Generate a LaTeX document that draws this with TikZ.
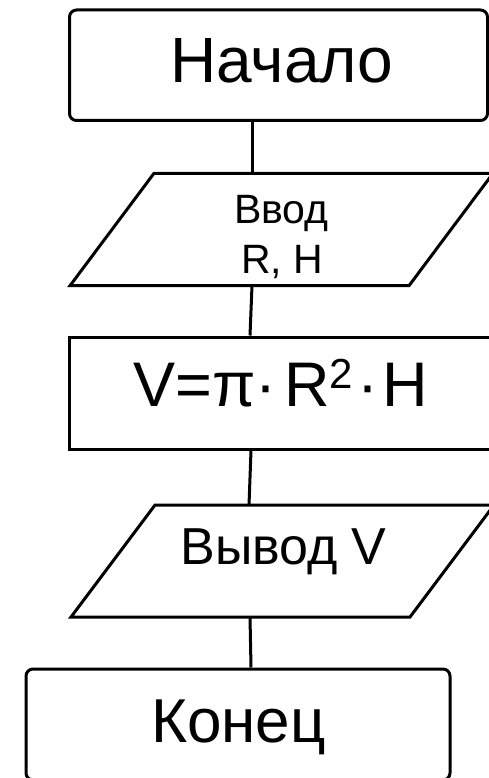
\documentclass[tikz,border=0pt]{standalone}
\usepackage{fontspec}
\setmainfont{Liberation Sans}
\begin{document}
\begin{tikzpicture}[x=1pt,y=-1pt,
  flow/.style={draw=black, line width=3pt},
  termbox/.style={flow, rounded corners=7pt, inner sep=0pt},
  procbox/.style={flow, inner sep=0pt},
  lbl/.style={inner sep=0pt, anchor=base, align=center}
]
\useasboundingbox (0,0) rectangle (489,778);
\clip (0,0) rectangle (489,778);

% terminal and process boxes
\node[termbox, minimum width=418pt, minimum height=110.5pt] (start) at (278.5,65.25) {};
\node[procbox, minimum width=422.5pt, minimum height=112pt] (proc) at (280.75,393) {};
\node[termbox, minimum width=424pt, minimum height=111pt] (stop) at (238,724.5) {};

% input parallelogram
\coordinate (in-tl) at (154,173.3);
\coordinate (in-tr) at (493,173.3);
\coordinate (in-br) at (409,285.7);
\coordinate (in-bl) at (70,285.7);
\draw[flow] (in-tl) -- (in-tr) -- (in-br) -- (in-bl) -- cycle;
\coordinate (in-top) at (252,173.3);
\coordinate (in-bot) at (252,285.7);

% output parallelogram
\coordinate (out-tl) at (155,505);
\coordinate (out-tr) at (494,505);
\coordinate (out-br) at (410,617);
\coordinate (out-bl) at (71,617);
\draw[flow] (out-tl) -- (out-tr) -- (out-br) -- (out-bl) -- cycle;
\coordinate (out-top) at (249,505);
\coordinate (out-bot) at (250,617);

% attachment columns on the boxes
\coordinate (x250) at (250,0);
\coordinate (x251) at (251,0);

% connectors
\draw[flow] (start.south -| in-top) -- (in-top);
\draw[flow] (in-bot) -- (proc.north -| x250);
\draw[flow] (proc.south -| x251) -- (out-top);
\draw[flow] (out-bot) -- (stop.north -| x251);

% labels
\node[lbl, font=\fontsize{64}{64}\selectfont] (t-start) at (282,83) {Начало};
\node[lbl, font=\fontsize{41}{41}\selectfont] (t-in1) at (281.5,223) {Ввод};
\node[lbl, font=\fontsize{41}{41}\selectfont] (t-in2) at (282,273) {R, H};
\node[lbl, font=\fontsize{63}{63}\selectfont] (t-proc) at (280.5,406)
  {V=π·\hspace{8pt}R\raisebox{18pt}{\fontsize{42}{42}\selectfont 2}\hspace{4pt}·\hspace{4pt}H};
\node[lbl, font=\fontsize{52}{52}\selectfont] (t-out) at (283.5,564) {Вывод V};
\node[lbl, font=\fontsize{62}{62}\selectfont] (t-stop) at (238.5,742) {Конец};
\end{tikzpicture}
\end{document}
